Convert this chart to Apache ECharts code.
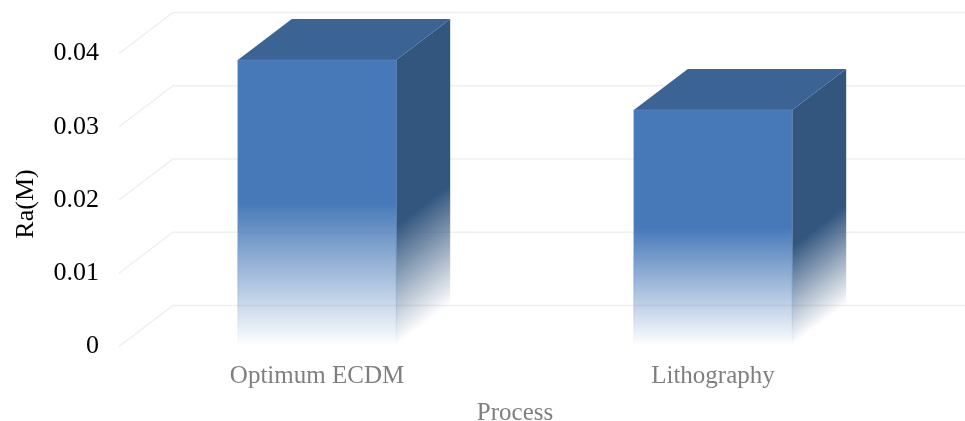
<!DOCTYPE html>
<html>
<head>
<meta charset="utf-8">
<style>html,body{margin:0;padding:0;background:#fff}#chart{width:965px;height:421px}</style>
<script src="https://cdn.jsdelivr.net/npm/echarts@6/dist/echarts.min.js"></script>
</head>
<body>
<div id="chart"></div>
<script>
// Surface roughness per process
const categories = ['Optimum ECDM', 'Lithography'];
const roughness = [0.0391, 0.0323];
const tickValues = [0, 0.01, 0.02, 0.03, 0.04];

// Oblique projection of the depth axis, in pixels
const DEPTH_X = 54;
const DEPTH_Y = -41;
const SERIF = '"Liberation Serif", "Times New Roman", serif';

const chart = echarts.init(document.getElementById('chart'), null, { renderer: 'canvas' });

// Floor-to-wall guide plus the horizontal rule along the back wall
function renderWallLine(params, api) {
  const cs = params.coordSys;
  const y = api.coord([0, api.value(0)])[1];
  return {
    type: 'polyline',
    silent: true,
    shape: { points: [[cs.x, y], [cs.x + DEPTH_X, y + DEPTH_Y], [cs.x + cs.width + DEPTH_X, y + DEPTH_Y]] },
    style: { fill: 'none', stroke: '#efefef', lineWidth: 1.5 }
  };
}

function fade(color, from) {
  const [r, g, b] = color;
  return [
    { offset: 0, color: `rgba(${r},${g},${b},1)` },
    { offset: from, color: `rgba(${r},${g},${b},1)` },
    { offset: 1, color: `rgba(${r},${g},${b},0)` }
  ];
}

// Box with a fading front and side; the value sets the height
function renderBox(params, api) {
  const top = api.coord([api.value(0), api.value(1)]);
  const base = api.coord([api.value(0), 0]);
  const w = api.size([1, 0])[0] * 0.4;
  const x0 = top[0] - w / 2, x1 = top[0] + w / 2;
  const yT = top[1], yB = base[1] - 1;
  const h = yB - yT;

  // Side shading runs perpendicular to the receding bottom edge
  const len = Math.hypot(DEPTH_X, DEPTH_Y);
  const nx = -DEPTH_Y / len, ny = DEPTH_X / len;
  const span = h * ny;
  const sideFill = new echarts.graphic.LinearGradient(
    x1 - nx * span, yB - ny * span, x1, yB, fade([51, 86, 127], 0.58), true);

  return {
    type: 'group',
    children: [
      {
        type: 'polygon', silent: true,
        shape: { points: [[x1, yT], [x1 + DEPTH_X, yT + DEPTH_Y], [x1 + DEPTH_X, yB + DEPTH_Y], [x1, yB]] },
        style: { fill: sideFill }
      },
      {
        type: 'polygon', silent: true,
        shape: { points: [[x0, yT], [x0 + DEPTH_X, yT + DEPTH_Y], [x1 + DEPTH_X, yT + DEPTH_Y], [x1, yT]] },
        style: { fill: '#3b6495' }
      },
      {
        type: 'rect', silent: true,
        shape: { x: x0, y: yT, width: w, height: h },
        style: {
          fill: new echarts.graphic.LinearGradient(0, 0, 0, 1, fade([71, 121, 184], 0.5)),
          stroke: new echarts.graphic.LinearGradient(0, 0, 0, 1, [
            { offset: 0, color: 'rgba(95,140,195,0.5)' },
            { offset: 0.7, color: 'rgba(95,140,195,0.5)' },
            { offset: 1, color: 'rgba(95,140,195,0)' }
          ]),
          lineWidth: 1
        }
      }
    ]
  };
}

chart.setOption({
  animation: false,
  backgroundColor: '#ffffff',
  grid: { left: 119, right: 54, top: 53.5, bottom: 74.5, containLabel: false, outerBoundsMode: 'none' },
  xAxis: {
    type: 'category',
    data: categories,
    axisLine: { show: false },
    axisTick: { show: false },
    splitLine: { show: false },
    axisLabel: { color: '#7f7f7f', fontFamily: SERIF, fontSize: 25, margin: 17 },
    name: 'Process',
    nameLocation: 'middle',
    nameGap: 54,
    nameTextStyle: { color: '#7f7f7f', fontFamily: SERIF, fontSize: 25 }
  },
  yAxis: {
    type: 'value',
    min: 0,
    max: 0.04,
    interval: 0.01,
    axisLine: { show: false },
    axisTick: { show: false },
    splitLine: { show: false },
    axisLabel: { color: '#000000', fontFamily: SERIF, fontSize: 26, margin: 20, padding: [4, 0, 0, 0] },
    name: 'Ra(M)',
    nameLocation: 'middle',
    nameGap: 80,
    nameTextStyle: { color: '#000000', fontFamily: SERIF, fontSize: 26, padding: [0, 8, 0, 0] }
  },
  series: [
    {
      type: 'custom',
      coordinateSystem: 'cartesian2d',
      renderItem: renderWallLine,
      data: tickValues.map(v => [v]),
      encode: { y: 0 },
      silent: true,
      z: 1
    },
    {
      type: 'custom',
      coordinateSystem: 'cartesian2d',
      renderItem: renderBox,
      data: roughness.map((v, i) => [i, v]),
      encode: { x: 0, y: 1 },
      silent: true,
      z: 2
    }
  ]
});
</script>
</body>
</html>
